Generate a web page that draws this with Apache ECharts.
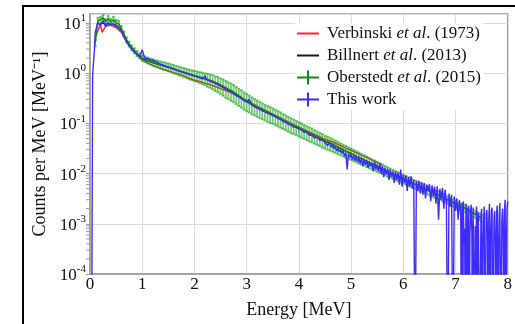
<!DOCTYPE html>
<html><head><meta charset="utf-8">
<script src="https://cdn.jsdelivr.net/npm/echarts@6/dist/echarts.min.js"></script>
<style>html,body{margin:0;padding:0;background:#fff}#c{width:515px;height:324px}</style>
</head><body><div id="c"></div>
<script>
// ---- axes ----
const xMin = 0, xMax = 8, xStep = 1;
const yMin = 1e-4, yMax = 15;
const yMinorMultipliers = [2,3,4,5,6,7,8,9];
const yDecades = [1e-4,1e-3,1e-2,1e-1,1,10];

const seriesNames = ['Verbinski et al. (1973)','Billnert et al. (2013)','Oberstedt et al. (2015)','This work'];

// ---- Verbinski et al. (1973) [E (MeV), counts/MeV] ----
const verbinski = [[0.1,5],[0.2,9.5],[0.23,6.5],[0.3,8.5],[0.4,9],[0.5,8],[0.6,6.5],[0.7,4.2],[0.8,3.0],[0.9,2.3],[1.0,1.85],
[1.1,1.6],[1.2,1.42],[1.3,1.3],[1.4,1.18],[1.5,1.1],[1.6,1.02],[1.7,0.95],[1.8,0.88],[1.9,0.79],[2.0,0.72],[2.1,0.68],[2.2,0.63],
[2.3,0.59],[2.4,0.54],[2.5,0.49],[2.6,0.45],[2.7,0.41],[2.8,0.36],[2.9,0.32],[3.0,0.285],[3.1,0.25],[3.2,0.22],[3.3,0.195],
[3.4,0.172],[3.5,0.152],[3.6,0.135],[3.7,0.12],[3.8,0.106],[3.9,0.094],[4.0,0.084],[4.1,0.075],[4.2,0.067],[4.3,0.06],
[4.4,0.054],[4.5,0.048],[4.6,0.044],[4.7,0.04],[4.8,0.036],[4.9,0.032],[5.0,0.029],[5.1,0.026],[5.2,0.023],[5.3,0.021],
[5.4,0.0185],[5.5,0.0165],[5.6,0.0148]];

// ---- Billnert et al. (2013) ----
const billnert = [[0.2,10],[0.3,9.5],[0.4,9.5],[0.5,9],[0.6,7.2],[0.7,4.4],[0.8,3.1],[0.9,2.4],[1.0,1.95],[1.1,1.75],[1.2,1.62],
[1.3,1.5],[1.4,1.4],[1.5,1.3],[1.6,1.2],[1.7,1.1],[1.8,1.02],[1.9,0.95],[2.0,0.88],[2.1,0.82],[2.2,0.76],[2.3,0.70],[2.4,0.63],
[2.5,0.56],[2.6,0.49],[2.7,0.43],[2.8,0.37],[2.9,0.315],[3.0,0.27],[3.1,0.235],[3.2,0.205],[3.3,0.183],[3.4,0.163],[3.5,0.147],
[3.6,0.13],[3.7,0.114],[3.8,0.1],[3.9,0.089],[4.0,0.08],[4.1,0.071],[4.2,0.063],[4.3,0.056],[4.4,0.05],[4.5,0.044],[4.6,0.04],
[4.7,0.0355],[4.8,0.0315],[4.9,0.028],[5.0,0.025],[5.1,0.0222],[5.2,0.0198],[5.3,0.0176],[5.4,0.0157],[5.5,0.014],[5.6,0.0124],
[5.7,0.011],[5.8,0.0098],[5.9,0.0088],[6.0,0.0079],[6.1,0.0071],[6.2,0.0063],[6.3,0.0056],[6.4,0.005],[6.5,0.0045],[6.6,0.004],
[6.7,0.0036],[6.8,0.0032],[6.9,0.0028],[7.0,0.0025],[7.1,0.0022],[7.2,0.002],[7.3,0.0017],[7.4,0.0015],[7.5,0.0013]];

// ---- Oberstedt et al. (2015): [E, value, relative error] ----
const oberstedt = [[0.10,4,0.15],[0.15,11,0.15],[0.20,11.5,0.15],[0.25,12.5,0.15],[0.30,10.5,0.15],[0.35,12,0.15],[0.40,10.5,0.15],
[0.45,11.5,0.15],[0.50,10,0.15],[0.55,9.5,0.15],[0.60,7.8,0.12],[0.65,6,0.12],[0.70,4.6,0.12],[0.75,3.8,0.12],[0.80,3.2,0.12],
[0.85,2.8,0.12],[0.90,2.45,0.12],[0.95,2.2,0.12],[1.00,2.0,0.13],[1.05,1.9,0.13],[1.10,1.8,0.14],[1.15,1.72,0.14],[1.20,1.65,0.15],
[1.25,1.58,0.15],[1.30,1.52,0.16],[1.35,1.47,0.16],[1.40,1.42,0.17],[1.45,1.37,0.17],[1.50,1.32,0.18],[1.55,1.27,0.18],[1.60,1.22,0.19],
[1.65,1.17,0.19],[1.70,1.12,0.2],[1.75,1.08,0.2],[1.80,1.04,0.21],[1.85,1.0,0.21],[1.90,0.96,0.22],[1.95,0.93,0.22],[2.00,0.9,0.23],
[2.05,0.87,0.24],[2.10,0.84,0.25],[2.15,0.81,0.26],[2.20,0.78,0.27],[2.25,0.75,0.29],[2.30,0.72,0.3],[2.35,0.69,0.32],[2.40,0.65,0.33],
[2.45,0.62,0.34],[2.50,0.58,0.35],[2.55,0.55,0.36],[2.60,0.51,0.37],[2.65,0.48,0.37],[2.70,0.45,0.38],[2.75,0.42,0.38],[2.80,0.385,0.38],
[2.85,0.355,0.38],[2.90,0.33,0.38],[2.95,0.30,0.38],[3.00,0.28,0.38],[3.05,0.26,0.37],[3.10,0.24,0.37],[3.15,0.225,0.36],[3.20,0.21,0.36],
[3.25,0.197,0.36],[3.30,0.185,0.35],[3.35,0.174,0.35],[3.40,0.164,0.35],[3.45,0.156,0.35],[3.50,0.148,0.34],[3.55,0.139,0.34],[3.60,0.131,0.34],
[3.65,0.123,0.34],[3.70,0.115,0.33],[3.75,0.108,0.33],[3.80,0.101,0.33],[3.85,0.095,0.33],[3.90,0.09,0.32],[3.95,0.085,0.32],[4.00,0.08,0.32],
[4.05,0.076,0.32],[4.10,0.071,0.31],[4.15,0.067,0.31],[4.20,0.063,0.31],[4.25,0.06,0.31],[4.30,0.056,0.3],[4.35,0.053,0.3],[4.40,0.05,0.3],
[4.45,0.047,0.3],[4.50,0.044,0.29],[4.55,0.042,0.29],[4.60,0.04,0.29],[4.65,0.0375,0.28],[4.70,0.0355,0.28],[4.75,0.0335,0.28],[4.80,0.0315,0.27],
[4.85,0.0297,0.27],[4.90,0.028,0.27],[4.95,0.0265,0.26],[5.00,0.025,0.26],[5.05,0.0236,0.26],[5.10,0.0222,0.25],[5.15,0.021,0.25],[5.20,0.0198,0.25],
[5.25,0.0187,0.24],[5.30,0.0176,0.24],[5.35,0.0166,0.24],[5.40,0.0157,0.23],[5.45,0.0148,0.23],[5.50,0.014,0.23],[5.55,0.0132,0.22],[5.60,0.0124,0.22],
[5.65,0.0117,0.22],[5.70,0.011,0.22],[5.75,0.0104,0.21],[5.80,0.0098,0.21],[5.85,0.0093,0.21],[5.90,0.0088,0.21],[5.95,0.0083,0.2],[6.00,0.0079,0.2],
[6.05,0.0075,0.2],[6.10,0.0071,0.2],[6.15,0.0067,0.2],[6.20,0.0063,0.19],[6.25,0.006,0.19],[6.30,0.0056,0.19],[6.35,0.0053,0.19],[6.40,0.005,0.19],
[6.45,0.0047,0.18],[6.50,0.0045,0.18],[6.55,0.0042,0.18],[6.60,0.004,0.18],[6.65,0.0038,0.18],[6.70,0.0036,0.17],[6.75,0.0034,0.17],[6.80,0.0032,0.17],
[6.85,0.003,0.17],[6.90,0.0028,0.17],[6.95,0.0026,0.17],[7.00,0.0025,0.16],[7.05,0.0023,0.16],[7.10,0.0022,0.16],[7.15,0.0021,0.16],[7.20,0.002,0.16],
[7.25,0.0019,0.16],[7.30,0.0017,0.16],[7.35,0.0016,0.16],[7.40,0.0015,0.16],[7.45,0.0014,0.16],[7.50,0.0013,0.16]];

// ---- This work (1e-6 = empty bin, below the axis) ----
const thisWork = [[0.03,1e-6],[0.048,1e-6],[0.05,0.9],[0.09,3.5],[0.10,6.5],[0.15,10],[0.20,9],[0.25,11],[0.30,8.5],[0.35,10],[0.40,9],
[0.45,9.5],[0.50,8.5],[0.55,8],[0.60,6.8],[0.65,5.3],[0.70,4.2],[0.75,3.5],[0.80,3.0],[0.85,2.6],[0.90,2.35],[0.95,2.1],[1.00,2.9],
[1.05,1.95],[1.10,1.95],[1.15,1.85],[1.20,1.8],[1.25,1.7],[1.30,1.62],[1.35,1.5],[1.40,1.45],[1.45,1.38],[1.50,1.33],[1.55,1.27],
[1.60,1.22],[1.65,1.16],[1.70,1.12],[1.75,1.07],[1.80,1.03],[1.85,0.98],[1.90,0.95],[1.95,0.91],[2.00,0.87],[2.05,0.84],[2.10,0.80],
[2.15,0.77],[2.20,0.88],[2.25,0.72],[2.30,0.69],[2.35,0.66],[2.40,0.62],[2.45,0.59],[2.50,0.55],[2.55,0.52],[2.60,0.48],[2.65,0.45],
[2.70,0.42],[2.75,0.39],[2.80,0.36],[2.85,0.335],[2.90,0.31],[2.95,0.285],[3.00,0.265],[3.05,0.3],[3.10,0.23],[3.15,0.215],[3.20,0.2],
[3.25,0.19],[3.30,0.176],[3.35,0.17],[3.40,0.158],[3.45,0.152],[3.50,0.142],[3.55,0.136],[3.60,0.124],[3.65,0.12],[3.70,0.108],
[3.75,0.105],[3.80,0.095],[3.85,0.093],[3.90,0.084],[3.95,0.083],[4.00,0.076],[4.05,0.074],[4.10,0.066],[4.15,0.066],[4.20,0.058],
[4.25,0.058],[4.30,0.051],[4.35,0.053],[4.40,0.046],[4.45,0.047],[4.50,0.041],
[4.525,0.043],[4.55,0.036],[4.575,0.041],[4.6,0.037],[4.625,0.033],[4.65,0.038],[4.675,0.031],[4.7,0.034],[4.725,0.028],[4.75,0.032],
[4.775,0.027],[4.8,0.030],[4.825,0.025],[4.85,0.029],[4.875,0.022],[4.9,0.026],[4.925,0.012],[4.95,0.025],[4.975,0.021],[5.0,0.024],
[5.025,0.019],[5.05,0.023],[5.075,0.018],[5.1,0.022],[5.125,0.017],[5.15,0.021],[5.175,0.016],[5.2,0.020],[5.225,0.014],[5.25,0.019],
[5.275,0.015],[5.3,0.018],[5.325,0.013],[5.35,0.017],[5.375,0.014],[5.4,0.016],[5.425,0.011],[5.45,0.017],[5.475,0.012],[5.5,0.015],
[5.525,0.011],[5.55,0.016],[5.575,0.010],[5.6,0.014],[5.625,0.0085],[5.65,0.013],[5.675,0.0095],[5.7,0.0125],[5.725,0.0075],[5.75,0.012],
[5.775,0.0085],[5.8,0.011],[5.825,0.0065],[5.85,0.011],[5.875,0.0075],[5.9,0.0105],[5.925,0.006],[5.95,0.012],[5.975,0.0055],[6.0,0.0095],
[6.025,0.0065],[6.05,0.009],[6.075,0.0045],[6.1,0.0085],[6.125,0.0055],[6.15,0.0088],[6.175,0.005],[6.2,0.0075],[6.225,1e-6],[6.25,0.007],
[6.275,0.0045],[6.3,0.0072],[6.325,0.004],[6.35,0.0068],[6.375,0.0038],[6.4,0.0065],[6.425,0.0032],[6.45,0.006],[6.475,0.0045],[6.5,0.0062],
[6.525,0.0028],[6.55,0.0058],[6.575,0.0035],[6.6,0.0055],[6.625,0.0025],[6.65,0.0056],[6.675,0.0012],[6.7,0.005],[6.725,0.003],[6.75,0.0052],
[6.775,0.002],[6.8,0.0048],[6.825,0.0028],[6.85,1e-6],[6.875,0.004],[6.9,0.0022],[6.925,0.0038],[6.95,1e-6],[6.975,0.0035],[7.0,0.0018],
[7.025,0.0032],[7.05,0.0012],[7.075,0.003],[7.1,0.0015],[7.1125,1e-6],[7.125,0.0026],[7.1375,1e-6],[7.15,0.0028],[7.1625,0.0004],[7.175,0.0008],
[7.1875,1e-6],[7.2,0.0025],[7.2125,0.0011],[7.225,1e-6],[7.2375,0.0019],[7.25,0.0022],[7.2625,1e-6],[7.275,0.0006],[7.2875,0.0016],[7.3,0.0024],
[7.3125,0.0007],[7.325,1e-6],[7.3375,0.0021],[7.35,0.002],[7.3625,1e-6],[7.375,0.0009],[7.3875,1e-6],[7.4,0.0022],[7.4125,0.0013],[7.425,1e-6],
[7.4375,0.0017],[7.45,0.0018],[7.4625,1e-6],[7.475,1e-6],[7.4875,0.0015],[7.5,0.002],[7.5125,1e-6],[7.525,0.0004],[7.5375,0.0012],[7.55,0.0022],
[7.5625,1e-6],[7.575,1e-6],[7.5875,0.0016],[7.6,0.0019],[7.6125,0.0006],[7.625,1e-6],[7.6375,0.0014],[7.65,0.0025],[7.6625,1e-6],[7.675,0.0005],
[7.6875,0.0018],[7.7,0.0021],[7.7125,1e-6],[7.725,1e-6],[7.7375,0.0013],[7.75,0.0018],[7.7625,0.0004],[7.775,1e-6],[7.7875,0.0017],[7.8,0.0023],
[7.8125,1e-6],[7.825,0.0003],[7.8375,0.0015],[7.85,0.0026],[7.8625,1e-6],[7.875,1e-6],[7.8875,0.0012],[7.9,0.002],[7.9125,0.0007],[7.925,1e-6],
[7.9375,0.0019],[7.95,0.003],[7.9625,1e-6],[7.975,0.0004],[7.9875,0.0021],[8.0,0.0028]];

// ---- styling ----
const FONT = 'Liberation Serif';
const RED = '#ff2a2a', BLACK = '#1a1a1a', GREEN = '#118a11', BLUE = '#3d2bff';
const GRAY = '#9a9a9a';

const minorTickValues = [];
yDecades.forEach(d => yMinorMultipliers.forEach(m => { if (d * m < yMax) minorTickValues.push([xMin, d * m]); }));

const lineIcon = 'path://M0,0L0.01,0L0.01,0.01Z M0,6L22,6L22,8L0,8Z M21.99,13.99L22,13.99L22,14Z';
const crossIcon = 'path://M0,6L22,6L22,8L0,8Z M10,0L12,0L12,14L10,14Z';

function legendLabel(name) {
  const m = name.match(/^(\S+) et al\. (\(\d+\))$/);
  if (m) return '{n|' + m[1] + ' }{i|et al}{n|. ' + m[2] + '}';
  return '{n|' + name + '}';
}

const chart = echarts.init(document.getElementById('c'), null, {renderer: 'canvas'});
chart.setOption({
  animation: false,
  backgroundColor: '#fff',
  graphic: [{type: 'rect', shape: {x: 23, y: 6, width: 700, height: 500}, style: {fill: 'none', stroke: '#000', lineWidth: 2}, silent: true, z: -1}],
  grid: {left: 90, right: 5, top: 14, bottom: 46, show: true, borderColor: GRAY, borderWidth: 1.5, backgroundColor: 'transparent'},
  legend: {
    orient: 'vertical', left: 295, top: 23, padding: [2, 2, 2, 2], itemGap: 5,
    itemWidth: 22, itemHeight: 14, backgroundColor: '#fff',
    data: [
      {name: seriesNames[0], icon: lineIcon},
      {name: seriesNames[1], icon: lineIcon},
      {name: seriesNames[2], icon: crossIcon},
      {name: seriesNames[3], icon: crossIcon}
    ],
    formatter: legendLabel,
    textStyle: {
      fontFamily: FONT, fontSize: 17, color: '#111', padding: [0, 0, 0, 3],
      rich: {n: {fontFamily: FONT, fontSize: 17, color: '#111'}, i: {fontFamily: FONT, fontSize: 17, fontStyle: 'italic', color: '#111'}}
    }
  },
  xAxis: {
    type: 'value', min: xMin, max: xMax, interval: xStep,
    name: 'Energy [MeV]', nameLocation: 'middle', nameGap: 27,
    nameTextStyle: {fontFamily: FONT, fontSize: 18, color: '#111'},
    axisLine: {lineStyle: {color: GRAY, width: 1.5}},
    axisTick: {show: false},
    axisLabel: {fontFamily: FONT, fontSize: 17, color: '#111', margin: 2},
    splitLine: {show: true, lineStyle: {color: '#dcdcdc', width: 1}}
  },
  yAxis: {
    type: 'log', logBase: 10, min: yMin, max: yMax,
    name: 'Counts per MeV [MeV\u207B\u00B9]', nameLocation: 'middle', nameGap: 40,
    nameTextStyle: {fontFamily: FONT, fontSize: 18, color: '#111'},
    axisLine: {show: true, lineStyle: {color: GRAY, width: 1.5}},
    axisTick: {show: true, inside: false, length: 4, lineStyle: {color: GRAY}},
    axisLabel: {
      margin: 4, showMaxLabel: false,
      formatter: function (v) {
        const l = Math.log10(v), e = Math.round(l);
        if (Math.abs(l - e) > 1e-6) return '';
        return '{b|10}{s|' + e + '}';
      },
      rich: {
        b: {fontFamily: FONT, fontSize: 17, color: '#111', lineHeight: 20, verticalAlign: 'bottom'},
        s: {fontFamily: FONT, fontSize: 11, color: '#111', lineHeight: 14, verticalAlign: 'top'}
      }
    },
    splitLine: {show: true, lineStyle: {color: '#dcdcdc', width: 1}}
  },
  series: [
    {
      type: 'custom', name: 'minorTicks', silent: true, clip: false, z: 1,
      data: minorTickValues,
      renderItem: function (params, api) {
        const p = api.coord([api.value(0), api.value(1)]);
        return {type: 'line', shape: {x1: p[0] - 4, y1: p[1], x2: p[0], y2: p[1]}, style: {stroke: GRAY, lineWidth: 1}};
      }
    },
    {name: seriesNames[0], type: 'line', data: verbinski, showSymbol: false, symbol: 'none', z: 2,
     lineStyle: {color: RED, width: 1.5}, itemStyle: {color: RED}},
    {name: seriesNames[1], type: 'line', data: billnert, showSymbol: false, symbol: 'none', z: 3,
     lineStyle: {color: BLACK, width: 1.5}, itemStyle: {color: BLACK}},
    {
      type: 'custom', name: seriesNames[2], data: oberstedt, z: 4, clip: true,
      encode: {x: 0, y: 1},
      itemStyle: {color: GREEN},
      renderItem: function (params, api) {
        const e = api.value(0), v = api.value(1), r = api.value(2);
        const hi = api.coord([e, v * (1 + r)]);
        const lo = api.coord([e, v * (1 - r)]);
        const st = {stroke: 'rgba(30,165,30,0.6)', lineWidth: 1.8};
        return {type: 'group', children: [
          {type: 'line', shape: {x1: hi[0], y1: hi[1], x2: lo[0], y2: lo[1]}, style: st},
          {type: 'line', shape: {x1: hi[0] - 1.5, y1: hi[1], x2: hi[0] + 1.5, y2: hi[1]}, style: st},
          {type: 'line', shape: {x1: lo[0] - 1.5, y1: lo[1], x2: lo[0] + 1.5, y2: lo[1]}, style: st}
        ]};
      }
    },
    {name: seriesNames[2], type: 'line', data: oberstedt.map(p => [p[0], p[1]]), showSymbol: false, symbol: 'none', z: 5,
     lineStyle: {color: GREEN, width: 1.5}, itemStyle: {color: GREEN}},
    {name: seriesNames[3], type: 'line', data: thisWork, showSymbol: false, symbol: 'none', z: 6, clip: true,
     lineStyle: {color: BLUE, width: 1.4}, itemStyle: {color: BLUE}}
  ]
});
</script>
</body></html>
